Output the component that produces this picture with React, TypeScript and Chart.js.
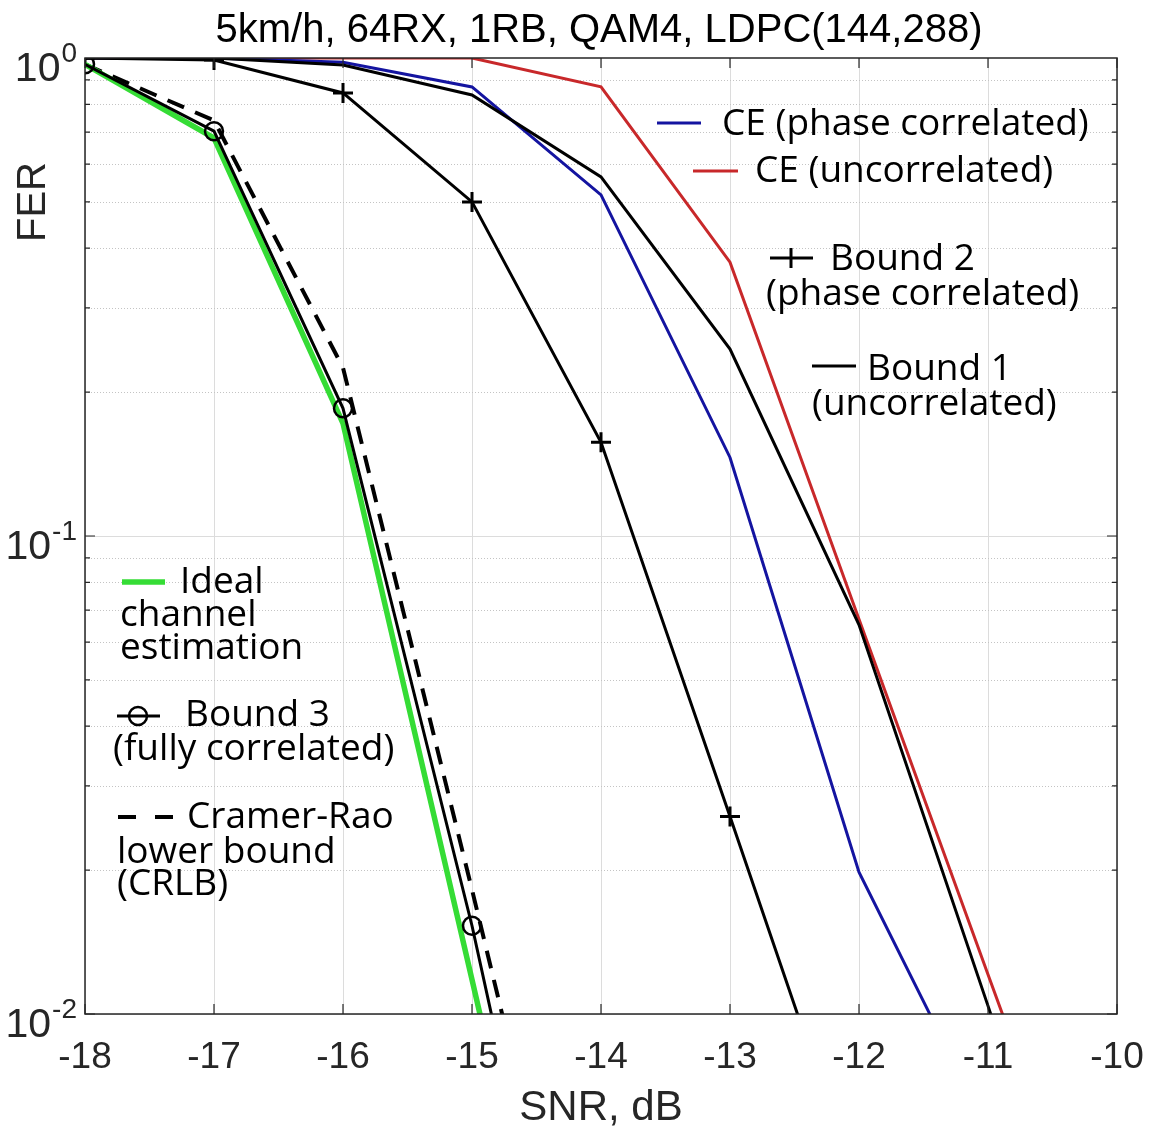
import { useEffect, useRef } from 'react';
import { Chart, registerables, Plugin } from 'chart.js';

Chart.register(...registerables);

// SNR points, dB
const snr = [-18, -17, -16, -15, -14, -13, -12, -11, -10];

// FER
const ceUncorrelated = [1, 1, 1, 1, 0.87, 0.374, 0.067, 0.0121, 0.0022];
const cePhaseCorrelated = [1, 1, 0.98, 0.87, 0.517, 0.146, 0.0198, 0.0057];
const bound1 = [1, 1, 0.967, 0.837, 0.564, 0.246, 0.0652, 0.0104, 0.0016];
const bound2 = [1, 0.99, 0.845, 0.5, 0.157, 0.0259, 0.0042];
const bound3 = [0.97, 0.703, 0.185, 0.0153, 0.0009];
const idealCE = [0.97, 0.68, 0.172, 0.0118, 0.0008];
const crlb = [0.97, 0.74, 0.225, 0.0182, 0.0014];

const xTicks = [-18, -17, -16, -15, -14, -13, -12, -11, -10];
const yDecades = [1, 0.1, 0.01];
const yExponents = ['0', '-1', '-2'];

const TITLE = '5km/h, 64RX, 1RB, QAM4, LDPC(144,288)';
const GREEN = '#35dc35';
const BLUE = '#1414a0';
const RED = '#c8282a';

const AXIS_FONT = '"Liberation Sans", Arial, sans-serif';
const LEGEND_FONT = '"Open Sans", "Noto Sans", sans-serif';

const pts = (ys: number[]) => ys.map((y, i) => ({ x: snr[i], y }));

const decorations: Plugin = {
  id: 'decorations',
  beforeDatasetsDraw(chart) {
    const { ctx, chartArea: a } = chart;
    const xs = chart.scales.x;
    const ys = chart.scales.y;
    ctx.save();
    // vertical grid
    ctx.strokeStyle = '#dcdcdc';
    ctx.lineWidth = 1;
    xTicks.forEach((t) => {
      const px = Math.round(xs.getPixelForValue(t)) + 0.5;
      ctx.beginPath();
      ctx.moveTo(px, a.top);
      ctx.lineTo(px, a.bottom);
      ctx.stroke();
    });
    // horizontal grid
    [0.01, 0.1].forEach((d) => {
      for (let m = 1; m <= 9; m++) {
        const py = Math.round(ys.getPixelForValue(d * m)) + 0.5;
        ctx.beginPath();
        if (m === 1) {
          ctx.setLineDash([]);
          ctx.strokeStyle = '#dcdcdc';
        } else {
          ctx.setLineDash([1, 2]);
          ctx.strokeStyle = '#c4c4c4';
        }
        ctx.moveTo(a.left, py);
        ctx.lineTo(a.right, py);
        ctx.stroke();
      }
    });
    ctx.restore();
  },
  afterDatasetsDraw(chart) {
    const { ctx, chartArea: a } = chart;
    const xs = chart.scales.x;
    const ys = chart.scales.y;
    ctx.save();
    // box
    ctx.strokeStyle = '#262626';
    ctx.lineWidth = 1.5;
    ctx.strokeRect(a.left, a.top, a.right - a.left, a.bottom - a.top);
    // ticks
    ctx.lineWidth = 1.2;
    ctx.beginPath();
    xTicks.forEach((t) => {
      const px = xs.getPixelForValue(t);
      ctx.moveTo(px, a.bottom);
      ctx.lineTo(px, a.bottom - 10);
      ctx.moveTo(px, a.top);
      ctx.lineTo(px, a.top + 10);
    });
    [0.01, 0.1].forEach((d) => {
      for (let m = 1; m <= 9; m++) {
        const py = ys.getPixelForValue(d * m);
        const len = m === 1 ? 10 : 5;
        ctx.moveTo(a.left, py);
        ctx.lineTo(a.left + len, py);
        ctx.moveTo(a.right, py);
        ctx.lineTo(a.right - len, py);
      }
    });
    ctx.stroke();

    // x tick labels
    ctx.fillStyle = '#262626';
    ctx.textBaseline = 'alphabetic';
    ctx.textAlign = 'center';
    ctx.font = `37px ${AXIS_FONT}`;
    xTicks.forEach((t) => {
      ctx.fillText(String(t), xs.getPixelForValue(t), 1068);
    });

    // y tick labels with superscripts
    yDecades.forEach((d, i) => {
      const py = ys.getPixelForValue(d);
      ctx.textAlign = 'right';
      ctx.font = `28px ${AXIS_FONT}`;
      const ew = ctx.measureText(yExponents[i]).width;
      ctx.fillText(yExponents[i], 77, py + 4);
      ctx.font = `41px ${AXIS_FONT}`;
      ctx.fillText('10', 77 - ew - 1, py + 23);
    });

    // axis titles
    ctx.textAlign = 'center';
    ctx.font = `42px ${AXIS_FONT}`;
    ctx.fillText('SNR, dB', 601, 1120);
    ctx.save();
    ctx.translate(45, 202);
    ctx.rotate(-Math.PI / 2);
    ctx.font = `40px ${AXIS_FONT}`;
    ctx.fillText('FER', 0, 0);
    ctx.restore();

    // title
    ctx.fillStyle = '#000';
    ctx.font = `40px ${AXIS_FONT}`;
    ctx.fillText(TITLE, 599, 42);

    // legend
    const seg = (x1: number, x2: number, y: number, color: string, w: number, dash: number[] = []) => {
      ctx.save();
      ctx.strokeStyle = color;
      ctx.lineWidth = w;
      ctx.setLineDash(dash);
      ctx.beginPath();
      ctx.moveTo(x1, y);
      ctx.lineTo(x2, y);
      ctx.stroke();
      ctx.restore();
    };
    const text = (s: string, x: number, y: number) => {
      ctx.fillText(s, x, y);
    };
    ctx.fillStyle = '#000';
    ctx.textAlign = 'left';
    ctx.font = `37px ${LEGEND_FONT}`;

    seg(122, 165, 582, GREEN, 5.5);
    text('Ideal', 180, 593);
    text('channel', 120, 626);
    text('estimation', 120, 659);

    seg(117, 160, 716, '#000', 3);
    ctx.save();
    ctx.strokeStyle = '#000';
    ctx.lineWidth = 2.5;
    ctx.beginPath();
    ctx.arc(138, 716, 9, 0, Math.PI * 2);
    ctx.stroke();
    ctx.restore();
    text('Bound 3', 185, 726);
    text('(fully correlated)', 113, 760);

    seg(118, 175, 817, '#000', 4, [18, 19]);
    text('Cramer-Rao', 187, 828);
    text('lower bound', 117, 863);
    text('(CRLB)', 117, 895);

    seg(657, 701, 123, BLUE, 3);
    text('CE (phase correlated)', 722, 135);
    seg(693, 738, 171, RED, 3);
    text('CE (uncorrelated)', 755, 182);

    seg(770, 813, 258, '#000', 3);
    ctx.save();
    ctx.strokeStyle = '#000';
    ctx.lineWidth = 3;
    ctx.beginPath();
    ctx.moveTo(791, 248);
    ctx.lineTo(791, 268);
    ctx.stroke();
    ctx.restore();
    text('Bound 2', 830, 270);
    text('(phase correlated)', 766, 305);

    seg(812, 856, 366, '#000', 3);
    text('Bound 1', 867, 380);
    text('(uncorrelated)', 812, 415);

    ctx.restore();
  },
};

export default function App() {
  const canvasRef = useRef<HTMLCanvasElement | null>(null);

  useEffect(() => {
    document.body.style.margin = '0';
    if (!canvasRef.current) return;
    const chart = new Chart(canvasRef.current, {
      type: 'line',
      data: {
        datasets: [
          {
            label: 'Bound 3 (fully correlated)',
            data: pts(bound3),
            borderColor: '#000',
            borderWidth: 3,
            pointStyle: 'circle',
            pointRadius: 9,
            pointBorderWidth: 2.5,
            pointBorderColor: '#000',
            pointBackgroundColor: 'rgba(0,0,0,0)',
          },
          {
            label: 'Ideal channel estimation',
            data: pts(idealCE),
            borderColor: GREEN,
            borderWidth: 5.5,
            pointRadius: 0,
          },
          {
            label: 'Cramer-Rao lower bound (CRLB)',
            data: pts(crlb),
            borderColor: '#000',
            borderWidth: 4,
            borderDash: [18, 12],
            pointRadius: 0,
          },
          {
            label: 'Bound 2 (phase correlated)',
            data: pts(bound2),
            borderColor: '#000',
            borderWidth: 3,
            pointStyle: 'cross',
            pointRadius: 10,
            pointBorderWidth: 3,
            pointBorderColor: '#000',
          },
          {
            label: 'Bound 1 (uncorrelated)',
            data: pts(bound1),
            borderColor: '#000',
            borderWidth: 3,
            pointRadius: 0,
          },
          {
            label: 'CE (phase correlated)',
            data: pts(cePhaseCorrelated),
            borderColor: BLUE,
            borderWidth: 3,
            pointRadius: 0,
          },
          {
            label: 'CE (uncorrelated)',
            data: pts(ceUncorrelated),
            borderColor: RED,
            borderWidth: 3,
            pointRadius: 0,
          },
        ],
      },
      options: {
        animation: false,
        responsive: true,
        maintainAspectRatio: false,
        devicePixelRatio: 1,
        layout: { padding: { left: 85, top: 58, right: 35, bottom: 119 } },
        elements: { line: { tension: 0 } },
        plugins: { legend: { display: false }, tooltip: { enabled: false } },
        scales: {
          x: { type: 'linear', display: false, min: -18, max: -10 },
          y: { type: 'logarithmic', display: false, min: 0.01, max: 1 },
        },
      },
      plugins: [decorations],
    });
    return () => chart.destroy();
  }, []);

  return (
    <div style={{ width: 1152, height: 1133, position: 'relative', background: '#fff' }}>
      <canvas ref={canvasRef} />
    </div>
  );
}
